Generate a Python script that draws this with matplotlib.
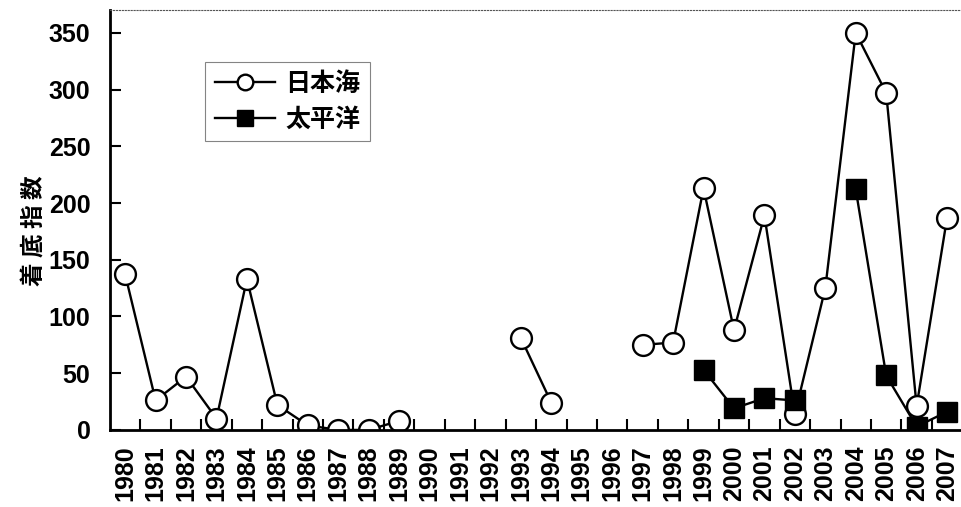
import numpy as np
import matplotlib
matplotlib.use("Agg")
import matplotlib.pyplot as plt

years = list(range(1980, 2008))
nan = np.nan

# 日本海 (open circles); nan = no data
japan_sea = [137, 26, 47, 10, 133, 22, 4, 0, 0, 8,
             nan, nan, nan, 81, 24, nan, nan, 75, 77, 213,
             88, 189, 14, 125, 350, 297, 21, 187]
# 太平洋 (filled squares)
pacific = [nan] * 19 + [53, 19, 28, 26, nan, 212, 48, 3, 16]

plt.rcParams["font.family"] = ["Liberation Sans", "Noto Sans CJK JP", "DejaVu Sans"]
cjk = ["Noto Sans CJK JP", "DejaVu Sans"]

fig = plt.figure(figsize=(9.62, 5.07), dpi=100)
ax = fig.add_axes([0.1143, 0.152, 0.886, 0.828])

x = np.arange(len(years))
ax.plot(x, japan_sea, "-o", color="black", lw=1.7, ms=15, mfc="white",
        mec="black", mew=1.7, label="日本海")
ax.plot(x, pacific, "-s", color="black", lw=1.7, ms=15, mfc="black",
        mec="black", label="太平洋")

ax.set_xlim(-0.5, len(years) - 0.5)
ax.set_ylim(0, 370)
ax.set_yticks(range(0, 351, 50))
ax.set_xticks(x)
ax.set_xticklabels([str(y) for y in years], rotation=90, fontsize=18, fontweight="bold")
ax.set_xticks(x[:-1] + 0.5, minor=True)
ax.tick_params(axis="x", which="major", length=0, pad=11)
ax.tick_params(axis="x", which="minor", direction="in", length=8, width=1.5)
ax.tick_params(axis="y", direction="in", length=8, width=1.5, labelsize=18, pad=14)
for lab in ax.get_yticklabels():
    lab.set_fontweight("bold")

ax.spines["left"].set_linewidth(2)
ax.spines["bottom"].set_linewidth(2)
ax.spines["right"].set_visible(False)
ax.spines["top"].set_linestyle(":")
ax.spines["top"].set_linewidth(0.8)
ax.spines["top"].set_color("#555555")

ax.set_ylabel("着 底 指 数", fontsize=17, fontweight="bold", family=cjk)
ax.yaxis.set_label_coords(-0.074, 0.475)

leg = ax.legend(loc="upper left", bbox_to_anchor=(0.1115, 0.876), borderaxespad=0,
                frameon=True, fancybox=False, edgecolor="#666666", handlelength=2.4,
                markerscale=0.75, borderpad=0.4, labelspacing=0.45,
                handletextpad=0.4, prop={"family": cjk, "size": 18, "weight": "bold"})
leg.get_frame().set_linewidth(0.8)

fig.savefig("out.png", dpi=100)
